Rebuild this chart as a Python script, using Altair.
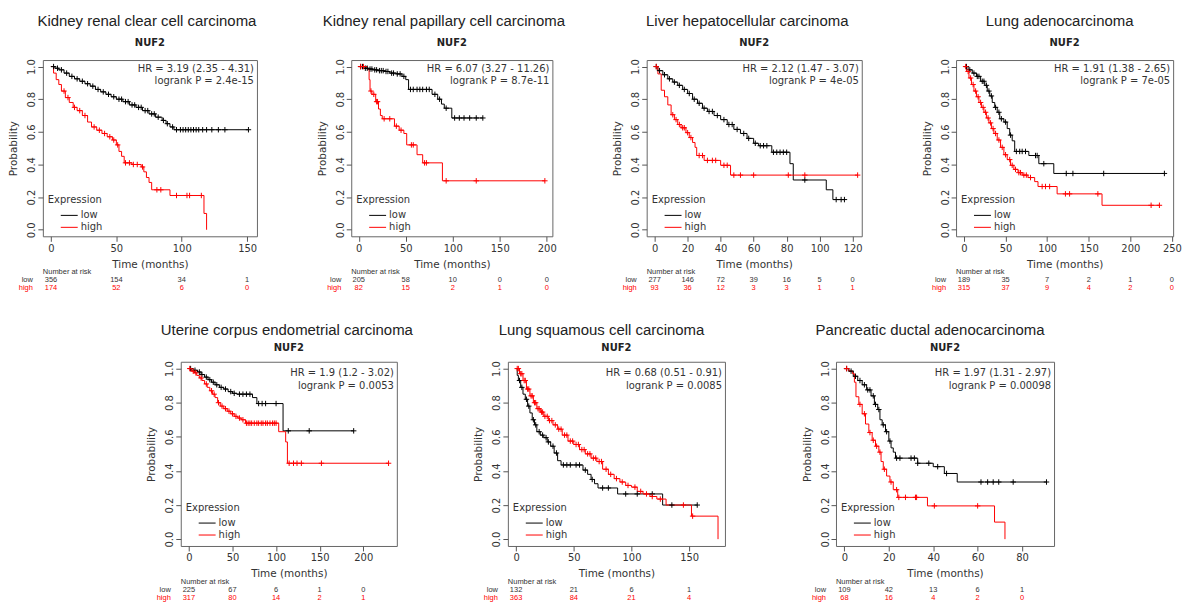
import altair as alt
import pandas as pd

GENE = "NUF2"
GROUPS = ["low", "high"]
GROUP_COLORS = ["black", "red"]
LEGEND_TITLE = "Expression"

TITLES = [
    "Kidney renal clear cell carcinoma",
    "Kidney renal papillary cell carcinoma",
    "Liver hepatocellular carcinoma",
    "Lung adenocarcinoma",
    "Uterine corpus endometrial carcinoma",
    "Lung squamous cell carcinoma",
    "Pancreatic ductal adenocarcinoma",
]
HR_TEXT = [
    "HR = 3.19 (2.35 - 4.31)",
    "HR = 6.07 (3.27 - 11.26)",
    "HR = 2.12 (1.47 - 3.07)",
    "HR = 1.91 (1.38 - 2.65)",
    "HR = 1.9 (1.2 - 3.02)",
    "HR = 0.68 (0.51 - 0.91)",
    "HR = 1.97 (1.31 - 2.97)",
]
P_TEXT = [
    "logrank P = 2.4e-15",
    "logrank P = 8.7e-11",
    "logrank P = 4e-05",
    "logrank P = 7e-05",
    "logrank P = 0.0053",
    "logrank P = 0.0085",
    "logrank P = 0.00098",
]

# ---------- Kidney renal clear cell carcinoma ----------
KIRC_LOW_T = [0, 3, 6, 10, 14, 18, 22, 26, 30, 34, 38, 42, 46, 50, 55, 60, 65, 70, 75, 80, 85, 88, 91, 94]
KIRC_LOW_S = [1.0, 0.99, 0.98, 0.96, 0.94, 0.925, 0.91, 0.895, 0.88, 0.86, 0.845, 0.83, 0.815, 0.80,
              0.785, 0.765, 0.75, 0.73, 0.71, 0.69, 0.67, 0.65, 0.63, 0.613]
KIRC_LOW_C = [2, 5, 8, 12, 16, 20, 24, 28, 32, 36, 40, 44, 48, 52, 54, 57, 59, 62, 64, 67, 69, 72, 74, 77,
              79, 82, 86, 89, 93, 96, 99, 101, 103, 105, 107, 109, 111, 113, 116, 119, 123, 128, 133, 151]
KIRC_HIGH_T = [0, 2, 4, 6, 8, 11, 14, 17, 20, 24, 28, 31, 35, 39, 43, 47, 50, 52, 54, 56, 62, 69, 71, 73,
               75, 77, 91, 117, 119]
KIRC_HIGH_S = [1.0, 0.96, 0.92, 0.89, 0.85, 0.81, 0.78, 0.75, 0.73, 0.70, 0.66, 0.63, 0.61, 0.59, 0.57,
               0.55, 0.52, 0.48, 0.45, 0.41, 0.40, 0.385, 0.355, 0.32, 0.29, 0.245, 0.21, 0.10, 0.0]
KIRC_HIGH_C = [10, 13, 18, 22, 26, 33, 37, 41, 45, 48, 51, 57, 60, 63, 66, 70, 81, 84, 96, 104, 106, 115]
KIRC_TICKS = [0, 50, 100, 150]
KIRC_RISK_LOW = [356, 154, 34, 1]
KIRC_RISK_HIGH = [174, 52, 6, 0]

# ---------- Kidney renal papillary cell carcinoma ----------
KIRP_LOW_T = [0, 5, 10, 15, 20, 27, 33, 40, 46, 50, 53, 78, 84, 88, 91, 99]
KIRP_LOW_S = [1.0, 0.99, 0.985, 0.98, 0.975, 0.97, 0.96, 0.955, 0.94, 0.92, 0.86, 0.83, 0.80, 0.77, 0.745, 0.685]
KIRP_LOW_C = [2, 4, 7, 9, 12, 14, 17, 19, 22, 24, 26, 29, 31, 35, 37, 41, 44, 48, 55, 58, 62, 65, 68, 72,
              75, 81, 86, 93, 102, 107, 112, 118, 125, 132]
KIRP_HIGH_T = [0, 9, 11, 12, 14, 18, 21, 23, 25, 38, 43, 48, 51, 62, 68, 89]
KIRP_HIGH_S = [1.0, 0.985, 0.92, 0.85, 0.83, 0.785, 0.74, 0.70, 0.68, 0.635, 0.61, 0.59, 0.52, 0.46, 0.41, 0.30]
KIRP_HIGH_C = [2, 5, 13, 16, 19, 20, 27, 33, 40, 45, 56, 58, 70, 72, 93, 125, 198]
KIRP_TICKS = [0, 50, 100, 150, 200]
KIRP_RISK_LOW = [205, 58, 10, 0, 0]
KIRP_RISK_HIGH = [82, 15, 2, 1, 0]

# ---------- Liver hepatocellular carcinoma ----------
LIHC_LOW_T = [0, 2, 5, 8, 11, 14, 17, 20, 23, 26, 29, 32, 36, 40, 44, 48, 52, 56, 60, 63, 71, 82, 84, 104, 108]
LIHC_LOW_S = [1.0, 0.975, 0.95, 0.925, 0.905, 0.885, 0.86, 0.835, 0.80, 0.775, 0.745, 0.725, 0.70, 0.675,
              0.645, 0.615, 0.59, 0.56, 0.53, 0.515, 0.475, 0.405, 0.305, 0.245, 0.185]
LIHC_LOW_C = [1, 3, 6, 9, 12, 15, 18, 21, 24, 27, 30, 33, 35, 38, 42, 45, 47, 50, 54, 57, 61, 64, 66, 68,
              72, 74, 76, 78, 80, 91, 110, 113, 115]
LIHC_HIGH_T = [0, 2, 4, 6, 8, 10, 12, 14, 16, 19, 21, 23, 24.5, 25.5, 30, 40, 46]
LIHC_HIGH_S = [1.0, 0.955, 0.855, 0.815, 0.765, 0.705, 0.675, 0.645, 0.625, 0.595, 0.565, 0.535, 0.505,
               0.455, 0.425, 0.395, 0.335]
LIHC_HIGH_C = [1, 11, 13, 15, 17, 18, 20, 22, 27, 29, 32, 35, 37, 42, 44, 48, 52, 60, 81, 91, 123]
LIHC_TICKS = [0, 20, 40, 60, 80, 100, 120]
LIHC_RISK_LOW = [277, 146, 72, 39, 16, 5, 0]
LIHC_RISK_HIGH = [93, 36, 12, 3, 3, 1, 1]

# ---------- Lung adenocarcinoma ----------
LUAD_LOW_T = [0, 5, 10, 15, 20, 25, 28, 31, 34, 37, 40, 43, 48, 52, 55, 58, 61, 78, 90, 108]
LUAD_LOW_S = [1.0, 0.98, 0.96, 0.94, 0.91, 0.885, 0.85, 0.82, 0.78, 0.75, 0.72, 0.68, 0.66, 0.62, 0.58,
              0.545, 0.48, 0.455, 0.405, 0.345]
LUAD_LOW_C = [3, 7, 12, 16, 18, 22, 24, 27, 30, 33, 38, 42, 45, 50, 56, 63, 67, 70, 74, 86, 88, 96, 123,
              131, 168, 241]
LUAD_HIGH_T = [0, 3, 6, 9, 12, 15, 18, 21, 24, 27, 30, 33, 36, 40, 44, 48, 52, 56, 60, 65, 70, 77, 85, 89,
               112, 166]
LUAD_HIGH_S = [1.0, 0.97, 0.93, 0.89, 0.85, 0.815, 0.78, 0.75, 0.72, 0.685, 0.655, 0.62, 0.59, 0.55, 0.505,
               0.46, 0.43, 0.395, 0.37, 0.35, 0.335, 0.32, 0.295, 0.265, 0.22, 0.15]
LUAD_HIGH_C = [2, 5, 8, 11, 14, 17, 20, 23, 26, 29, 32, 35, 38, 42, 46, 50, 55, 58, 62, 66, 68, 72, 75, 80,
               94, 98, 103, 122, 127, 161, 225, 235]
LUAD_TICKS = [0, 50, 100, 150, 200, 250]
LUAD_RISK_LOW = [189, 35, 7, 2, 1, 0]
LUAD_RISK_HIGH = [315, 37, 9, 4, 2, 0]

# ---------- Uterine corpus endometrial carcinoma ----------
UCEC_LOW_T = [0, 5, 10, 14, 18, 22, 26, 30, 35, 40, 45, 50, 55, 73, 78, 108]
UCEC_LOW_S = [1.0, 0.99, 0.98, 0.965, 0.95, 0.935, 0.92, 0.905, 0.89, 0.88, 0.865, 0.855, 0.85, 0.83, 0.795, 0.635]
UCEC_LOW_C = [2, 7, 12, 15, 20, 24, 28, 32, 37, 42, 48, 52, 58, 62, 66, 70, 80, 84, 88, 100, 114, 138, 189]
UCEC_HIGH_T = [0, 3, 6, 9, 12, 15, 18, 21, 24, 27, 30, 33, 36, 40, 44, 48, 52, 56, 60, 65, 103, 111, 113]
UCEC_HIGH_S = [1.0, 0.985, 0.975, 0.96, 0.945, 0.93, 0.91, 0.89, 0.87, 0.85, 0.83, 0.80, 0.78, 0.765, 0.75,
               0.735, 0.72, 0.71, 0.70, 0.68, 0.63, 0.57, 0.445]
UCEC_HIGH_C = [1, 5, 8, 14, 20, 26, 29, 34, 38, 42, 46, 50, 54, 58, 62, 66, 68, 70, 72, 75, 78, 80, 83, 85,
               88, 90, 93, 96, 98, 100, 115, 120, 124, 129, 152, 229]
UCEC_TICKS = [0, 50, 100, 150, 200]
UCEC_RISK_LOW = [225, 67, 6, 1, 0]
UCEC_RISK_HIGH = [317, 80, 14, 2, 1]

# ---------- Lung squamous cell carcinoma ----------
LUSC_LOW_T = [0, 1, 2, 4, 6, 8, 10, 12, 14, 16, 18, 21, 24, 27, 30, 33, 36, 39, 58, 62, 65, 68, 71, 88, 127]
LUSC_LOW_S = [1.0, 0.96, 0.93, 0.89, 0.85, 0.82, 0.78, 0.74, 0.70, 0.67, 0.63, 0.61, 0.595, 0.57, 0.545,
              0.505, 0.46, 0.435, 0.405, 0.38, 0.35, 0.325, 0.30, 0.265, 0.20]
LUSC_LOW_C = [3, 5, 9, 11, 15, 17, 20, 23, 26, 28, 32, 35, 41, 44, 47, 52, 55, 60, 66, 75, 80, 95, 105, 118,
              135, 157]
LUSC_HIGH_T = [0, 3, 6, 9, 12, 15, 18, 21, 24, 28, 32, 36, 40, 45, 50, 55, 60, 65, 70, 75, 80, 85, 90, 95,
               100, 105, 110, 116, 122, 130, 152, 175]
LUSC_HIGH_S = [1.0, 0.97, 0.93, 0.88, 0.84, 0.80, 0.765, 0.745, 0.72, 0.695, 0.67, 0.645, 0.61, 0.575, 0.555,
               0.525, 0.50, 0.475, 0.455, 0.41, 0.38, 0.355, 0.335, 0.315, 0.305, 0.28, 0.265, 0.25, 0.235,
               0.20, 0.135, 0.0]
LUSC_HIGH_C = [1, 2, 4, 5, 7, 8, 10, 11, 13, 14, 16, 17, 19, 20, 22, 23, 25, 27, 29, 31, 34, 37, 39, 42, 44,
               47, 49, 52, 54, 57, 59, 62, 64, 67, 69, 72, 74, 78, 82, 87, 92, 97, 103, 108, 113, 118, 125,
               145, 153]
LUSC_TICKS = [0, 50, 100, 150]
LUSC_RISK_LOW = [132, 21, 6, 1]
LUSC_RISK_HIGH = [363, 84, 21, 4]

# ---------- Pancreatic ductal adenocarcinoma ----------
PAAD_LOW_T = [0, 2, 4, 6, 8, 10, 12, 13.5, 15, 16, 17, 18.5, 20, 21, 22, 23, 33, 40, 45, 50.8]
PAAD_LOW_S = [1.0, 0.985, 0.955, 0.93, 0.905, 0.875, 0.84, 0.79, 0.76, 0.70, 0.67, 0.63, 0.575, 0.535, 0.51,
              0.475, 0.445, 0.425, 0.385, 0.335]
PAAD_LOW_C = [1, 3, 5, 7, 9, 10.5, 11.5, 13, 14, 15.5, 17.5, 19, 20.5, 23.5, 25, 30, 31.5, 33, 38, 42, 46,
              61.5, 64.5, 67, 69.5, 76, 91]
PAAD_HIGH_T = [0, 2, 3.7, 4.5, 5.2, 6.5, 8, 9.5, 11, 12.5, 14, 15.5, 16.5, 17.5, 19, 20.5, 22, 24, 37.4,
               67.6, 72.3]
PAAD_HIGH_S = [1.0, 0.985, 0.97, 0.92, 0.835, 0.79, 0.735, 0.675, 0.625, 0.58, 0.545, 0.51, 0.455, 0.41,
               0.37, 0.335, 0.29, 0.245, 0.195, 0.10, 0.0]
PAAD_HIGH_C = [1, 7, 9, 11.5, 13, 14.5, 16, 18, 21, 23.5, 24.5, 27.5, 32, 32.5, 40.5, 60]
PAAD_TICKS = [0, 20, 40, 60, 80]
PAAD_RISK_LOW = [109, 42, 13, 6, 1]
PAAD_RISK_HIGH = [68, 16, 4, 2, 0]

Y_TICKS = [0.0, 0.2, 0.4, 0.6, 0.8, 1.0]

FONT = "DejaVu Sans"
TITLE_FONT = "Liberation Sans"
RISK_FONT = "Liberation Sans"
TXT = "#333333"
PLUS = "M-1,0H1M0,-1V1"


def step_rows(group, t, s, cens):
    tt, ss = list(t), list(s)
    end = max(list(cens) + [tt[-1]])
    if end > tt[-1]:
        tt.append(end)
        ss.append(ss[-1])
    return [{"time": a, "surv": b, "group": group} for a, b in zip(tt, ss)]


def cens_rows(group, t, s, cens):
    out = []
    for c in cens:
        v = s[0]
        for ti, si in zip(t, s):
            if ti <= c:
                v = si
            else:
                break
        out.append({"time": c, "surv": v, "group": group})
    return out


def const_text(label, xpx, ypx, **kw):
    return alt.Chart(pd.DataFrame({"label": [label]})).mark_text(**kw).encode(
        text="label:N", x=alt.value(xpx), y=alt.value(ypx))


def legend_key(color, ypx):
    return alt.Chart(pd.DataFrame({"k": [0]})).mark_rule(color=color, strokeWidth=1).encode(
        x=alt.value(18), x2=alt.value(35), y=alt.value(ypx))


def panel(i, lo, hi, ticks, risk_lo, risk_hi, xdom, w, h, t_off, t_dx, sub_y, hr_y, leg_y):
    lines = pd.DataFrame(step_rows("low", *lo) + step_rows("high", *hi))
    cens = pd.DataFrame(cens_rows("low", *lo) + cens_rows("high", *hi))
    risk = pd.DataFrame({"time": ticks, "nlow": risk_lo, "nhigh": risk_hi})

    color = alt.Color("group:N", scale=alt.Scale(domain=GROUPS, range=GROUP_COLORS), legend=None)
    x = alt.X("time:Q", scale=alt.Scale(domain=xdom, nice=False, zero=False),
              axis=alt.Axis(values=ticks, format="d", title="Time (months)"))
    y = alt.Y("surv:Q", scale=alt.Scale(domain=[-0.04, 1.04], nice=False, zero=False),
              axis=alt.Axis(values=Y_TICKS, format=".1f", title="Probability"))

    line = alt.Chart(lines).mark_line(interpolate="step-after", strokeWidth=1).encode(
        x=x, y=y, color=color)
    marks = alt.Chart(cens).mark_point(shape=PLUS, size=30, filled=False, strokeWidth=1, opacity=1).encode(
        x=x, y=y, color=color)

    hr1 = const_text(HR_TEXT[i], w - 3, hr_y[0], align="right", baseline="middle",
                     font=FONT, fontSize=10, color=TXT)
    hr2 = const_text(P_TEXT[i], w - 3, hr_y[1], align="right", baseline="middle",
                     font=FONT, fontSize=10, color=TXT)
    gene = const_text(GENE, w / 2, sub_y, align="center", baseline="middle",
                      font=FONT, fontSize=10, fontWeight="bold", color="#222222")

    # legend (Expression: low / high)
    lg_t = const_text(LEGEND_TITLE, 5, h + leg_y[0], align="left", baseline="middle",
                      font=FONT, fontSize=10, color=TXT)
    lg_l1 = legend_key(GROUP_COLORS[0], h + leg_y[1])
    lg_l2 = legend_key(GROUP_COLORS[1], h + leg_y[2])
    lg_t1 = const_text(GROUPS[0], 38, h + leg_y[1], align="left", baseline="middle",
                       font=FONT, fontSize=10, color=TXT)
    lg_t2 = const_text(GROUPS[1], 38, h + leg_y[2], align="left", baseline="middle",
                       font=FONT, fontSize=10, color=TXT)

    nar = const_text("Number at risk", 0, h + 36, align="left", baseline="middle",
                     font=RISK_FONT, fontSize=7.5, color=TXT)
    lab_lo = const_text("low", -10, h + 44, align="right", baseline="middle",
                        font=RISK_FONT, fontSize=7.5, color=TXT)
    lab_hi = const_text("high", -10, h + 52, align="right", baseline="middle",
                        font=RISK_FONT, fontSize=7.5, color="red")
    r_lo = alt.Chart(risk).mark_text(font=RISK_FONT, fontSize=7.5, color=TXT, baseline="middle").encode(
        x=x, y=alt.value(h + 44), text="nlow:N")
    r_hi = alt.Chart(risk).mark_text(font=RISK_FONT, fontSize=7.5, color="red", baseline="middle").encode(
        x=x, y=alt.value(h + 52), text="nhigh:N")

    return alt.layer(line, marks, hr1, hr2, gene, lg_t, lg_l1, lg_l2, lg_t1, lg_t2,
                     nar, lab_lo, lab_hi, r_lo, r_hi).properties(
        width=w, height=h,
        title=alt.TitleParams(TITLES[i], offset=t_off, dx=t_dx))


TOP_H = 177
BOT_H = 185
TOP_LEG = (-36, -21, -9)
BOT_LEG = (-38, -23, -11)

p1 = panel(0, (KIRC_LOW_T, KIRC_LOW_S, KIRC_LOW_C), (KIRC_HIGH_T, KIRC_HIGH_S, KIRC_HIGH_C),
           KIRC_TICKS, KIRC_RISK_LOW, KIRC_RISK_HIGH, [-6.2, 157.5], 215, TOP_H, 9, -3, -17, (9, 21), TOP_LEG)
p2 = panel(1, (KIRP_LOW_T, KIRP_LOW_S, KIRP_LOW_C), (KIRP_HIGH_T, KIRP_HIGH_S, KIRP_HIGH_C),
           KIRP_TICKS, KIRP_RISK_LOW, KIRP_RISK_HIGH, [-8, 206], 202, TOP_H, 9, -8, -17, (9, 21), TOP_LEG)
p3 = panel(2, (LIHC_LOW_T, LIHC_LOW_S, LIHC_LOW_C), (LIHC_HIGH_T, LIHC_HIGH_S, LIHC_HIGH_C),
           LIHC_TICKS, LIHC_RISK_LOW, LIHC_RISK_HIGH, [-4.8, 125.5], 216, TOP_H, 9, -7, -17, (9, 21), TOP_LEG)
p4 = panel(3, (LUAD_LOW_T, LUAD_LOW_S, LUAD_LOW_C), (LUAD_HIGH_T, LUAD_HIGH_S, LUAD_HIGH_C),
           LUAD_TICKS, LUAD_RISK_LOW, LUAD_RISK_HIGH, [-9.5, 251.5], 218, TOP_H, 9, -5, -17, (9, 21), TOP_LEG)
p5 = panel(4, (UCEC_LOW_T, UCEC_LOW_S, UCEC_LOW_C), (UCEC_HIGH_T, UCEC_HIGH_S, UCEC_HIGH_C),
           UCEC_TICKS, UCEC_RISK_LOW, UCEC_RISK_HIGH, [-9.3, 238.5], 217, BOT_H, 5, -2, -14, (11, 24), BOT_LEG)
p6 = panel(5, (LUSC_LOW_T, LUSC_LOW_S, LUSC_LOW_C), (LUSC_HIGH_T, LUSC_HIGH_S, LUSC_HIGH_C),
           LUSC_TICKS, LUSC_RISK_LOW, LUSC_RISK_HIGH, [-7.1, 181], 218, BOT_H, 5, -15, -14, (11, 24), BOT_LEG)
p7 = panel(6, (PAAD_LOW_T, PAAD_LOW_S, PAAD_LOW_C), (PAAD_HIGH_T, PAAD_HIGH_S, PAAD_HIGH_C),
           PAAD_TICKS, PAAD_RISK_LOW, PAAD_RISK_HIGH, [-3.8, 94.4], 219, BOT_H, 5, -15, -14, (11, 24), BOT_LEG)

spacer = alt.Chart(pd.DataFrame({"v": [0]})).mark_point(opacity=0).encode(
    x=alt.value(0), y=alt.value(0)).properties(
    width=27, height=10, view=alt.ViewBackground(stroke="transparent"))

top = alt.hconcat(p1, p2, p3, p4, spacing=94.7, bounds="flush")
bottom = alt.hconcat(spacer, p5, p6, p7, spacing=111.5, bounds="flush")

chart = alt.vconcat(top, bottom, spacing=30).properties(
    padding={"left": 0, "top": 4, "right": 0, "bottom": 0},
    background="white",
).configure_view(
    stroke="#666666", strokeWidth=1
).configure_axis(
    labelFont=FONT, labelFontSize=10, labelColor=TXT, tickColor="#555555", tickSize=5, tickWidth=1,
    domain=False, grid=False, titleFont=FONT, titleFontSize=10.5, titleFontWeight="normal",
    titleColor=TXT, labelPadding=1
).configure_axisX(
    titlePadding=6, labelPadding=2
).configure_axisY(
    labelAngle=270, labelAlign="center", labelBaseline="bottom", titlePadding=8
).configure_title(
    font=TITLE_FONT, fontSize=15, fontWeight="normal", color="#222222", anchor="middle", frame="group"
)

chart.save("out.html", embed_options={"renderer": "svg", "actions": False})
